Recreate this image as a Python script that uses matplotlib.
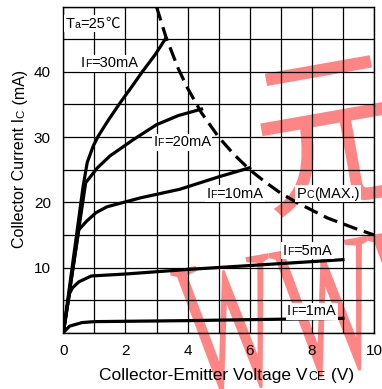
import matplotlib
matplotlib.use("Agg")
import matplotlib.pyplot as plt
from matplotlib.font_manager import FontProperties, findfont
from matplotlib.ft2font import FT2Font
from matplotlib.transforms import offset_copy, Affine2D, Bbox, IdentityTransform
from matplotlib.textpath import TextPath
from matplotlib.patches import PathPatch, Rectangle

DPI = 100
SANS = "Liberation Sans"
WM_COLOR = "#ff8484"

# IC - VCE characteristic curves, one per forward current
vce_1 = [0, 0.2, 0.6, 1.0, 2.0, 4.0, 6.0, 9.0]
ic_1 = [0, 1.0, 1.55, 1.7, 1.75, 1.85, 2.0, 2.2]

vce_5 = [0, 0.2, 0.3, 0.5, 0.9, 2.0, 4.0, 6.0, 9.0]
ic_5 = [0, 6.0, 6.9, 7.8, 8.7, 9.0, 9.7, 10.3, 11.2]

vce_10 = [0, 0.5, 0.75, 1.05, 1.4, 2.5, 3.75, 5.0, 6.0]
ic_10 = [0, 15.8, 17.1, 18.4, 19.3, 20.7, 22.0, 23.9, 25.3]

vce_20 = [0, 0.72, 1.1, 1.5, 2.25, 3.0, 3.7, 4.45]
ic_20 = [0, 23.0, 25.3, 27.1, 29.6, 31.9, 33.3, 34.3]

vce_30 = [0, 0.64, 0.77, 0.96, 1.13, 1.45, 1.82, 2.2, 2.57, 2.95, 3.29]
ic_30 = [0, 22.5, 26.1, 28.6, 30.2, 32.6, 35.2, 37.7, 40.2, 42.6, 45.1]

# collector power dissipation limit
vce_pc = [3.0, 3.3, 3.7, 4.0, 4.45, 5.0, 5.5, 6.0, 6.5, 7.0, 7.5, 8.0, 8.5, 9.0, 9.5, 10.0]
ic_pc = [50.0, 45.4, 40.5, 37.5, 33.7, 30.0, 27.3, 25.0, 23.1, 21.4, 20.0, 18.8, 17.6, 16.7, 15.8, 15.0]

x_ticks = [0, 2, 4, 6, 8, 10]
y_ticks = [10, 20, 30, 40]

fig = plt.figure(figsize=(3.82, 3.89), dpi=DPI)
ax = fig.add_axes([63.3 / 382, 56.3 / 389, 310.7 / 382, 326.0 / 389])
ax.set_facecolor("none")


def advance(s, size, family=SANS):
    font = FT2Font(findfont(FontProperties(family=family)))
    font.set_size(size, DPI)
    return sum(font.load_char(ord(c)).linearHoriAdvance for c in s) / 65536.0


def rich_text(target, x, y, parts, size, transform, rotation=0, center=False, box=False):
    # pieces of (text, scale) laid out on one common baseline
    widths = [advance(s, size * k) for s, k in parts]
    pos = -sum(widths) / 2 if center else 0
    texts = []
    for (s, k), w in zip(parts, widths):
        dx, dy = (0, pos) if rotation == 90 else (pos, 0)
        tr = offset_copy(transform, fig=fig, x=dx * 72 / DPI, y=dy * 72 / DPI, units="points")
        t = target.text(x, y, s, transform=tr, fontsize=size * k,
                        family=[SANS, "Noto Sans CJK SC"], rotation=rotation,
                        rotation_mode="anchor", ha="left", va="baseline", zorder=5)
        texts.append(t)
        pos += w
    if box:
        r = fig.canvas.get_renderer()
        bb = Bbox.union([t.get_window_extent(r) for t in texts]).padded(1.5)
        target.add_patch(Rectangle((bb.x0, bb.y0), bb.width, bb.height,
                                   transform=IdentityTransform(), fc="white",
                                   ec="none", zorder=4))
    return texts


def watermark(s, family, size, sx, sy, angle, x, y):
    path = TextPath((0, 0), s, size=size, prop=FontProperties(family=family))
    tr = Affine2D().scale(sx, sy).rotate_deg(angle).translate(x, y)
    fig.add_artist(PathPatch(path, transform=tr, fc=WM_COLOR, ec="none", zorder=-1))


watermark("元", "Noto Sans CJK SC", 150, 1.0, 1.15, 10, 266, 182)
watermark("WWW", "Liberation Serif", 100, 1.06, 1.96, 10, 192, -8)

curve_kw = dict(color="black", lw=2.3, solid_joinstyle="round", zorder=3)
for v, i in [(vce_1, ic_1), (vce_5, ic_5), (vce_10, ic_10), (vce_20, ic_20), (vce_30, ic_30)]:
    ax.plot(v, i, **curve_kw)
ax.plot(vce_pc, ic_pc, color="black", lw=2.3, linestyle=(0, (4.5, 2.2)), zorder=3)

ax.set_xlim(0, 10)
ax.set_ylim(0, 50)
ax.set_xticks(x_ticks)
ax.set_xticks(range(0, 11), minor=True)
ax.set_yticks(y_ticks)
ax.set_yticks(range(0, 51, 5), minor=True)
ax.grid(which="both", color="black", lw=0.9, zorder=1)
ax.tick_params(which="both", length=0, labelsize=11)
ax.tick_params(axis="x", pad=8)
ax.tick_params(axis="y", pad=9)
for lab in ax.get_xticklabels() + ax.get_yticklabels():
    lab.set_family(SANS)
for sp in ax.spines.values():
    sp.set_linewidth(1.0)

lab_size = 10.5
sub = 0.72
rich_text(ax, 0.07, 46.8, [("T", 1), ("a", sub), ("=25", 1), ("℃", 1)], lab_size, ax.transData, box=True)
rich_text(ax, 0.57, 40.7, [("I", 1), ("F", sub), ("=30mA", 1)], lab_size, ax.transData, box=True)
rich_text(ax, 2.9, 28.6, [("I", 1), ("F", sub), ("=20mA", 1)], lab_size, ax.transData, box=True)
rich_text(ax, 4.6, 20.7, [("I", 1), ("F", sub), ("=10mA", 1)], lab_size, ax.transData, box=True)
rich_text(ax, 7.5, 20.7, [("P", 1), ("C", sub), ("(MAX.)", 1)], lab_size, ax.transData, box=True)
rich_text(ax, 7.07, 11.95, [("I", 1), ("F", sub), ("=5mA", 1)], lab_size, ax.transData, box=True)
rich_text(ax, 7.2, 2.7, [("I", 1), ("F", sub), ("=1mA", 1)], lab_size, ax.transData, box=True)

rich_text(fig, 226.5 / 382, 9 / 389,
          [("Collector-Emitter Voltage V", 1), ("CE", sub), (" (V)", 1)],
          12.5, fig.transFigure, center=True)
rich_text(fig, 24.5 / 382, 230 / 389,
          [("Collector Current I", 1), ("C", sub), (" (mA)", 1)],
          11.5, fig.transFigure, rotation=90, center=True)

fig.savefig("out.png", dpi=DPI)
